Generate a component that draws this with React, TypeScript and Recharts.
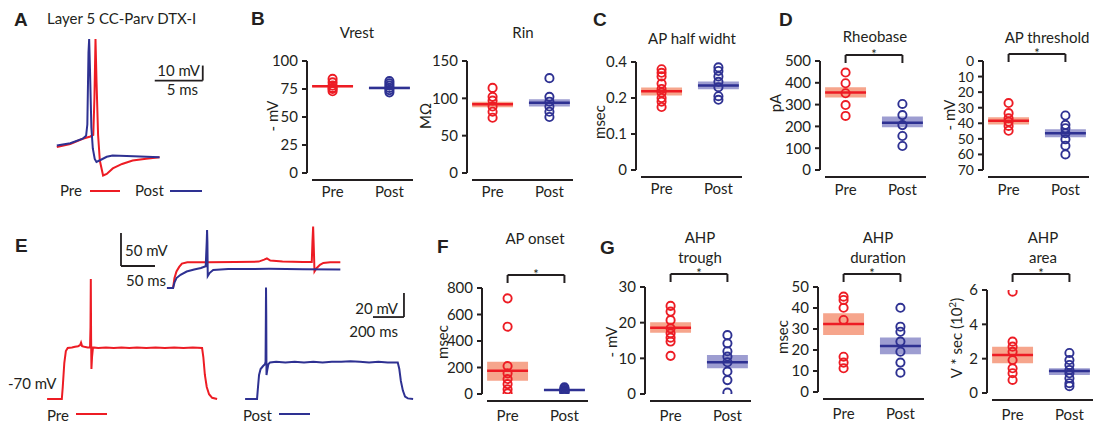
import React from 'react';
import {
  ComposedChart, LineChart, Line, Scatter, XAxis, YAxis, ReferenceArea, ReferenceLine,
} from 'recharts';

const RED = '#ed1c24';
const BLUE = '#2e3192';
const RED_BAND = '#f6a58c';
const BLUE_BAND = '#9d9dd1';
const INK = '#231f20';
const FONT = 'Lato, "Open Sans", sans-serif';

const groups = ['Pre', 'Post'];

// ---- B: Vrest / Rin
const vrestPre = [84, 81, 78, 76, 75, 73];
const vrestPost = [82, 80, 78, 76, 74, 72];
const vrestMean = [77.5, 76];
const vrestBand = [[76.5, 78.5], [75, 77]];

const rinPre = [114, 102, 97, 89, 82, 74];
const rinPost = [127, 102, 95.5, 89, 82, 75];
const rinMean = [92, 94];
const rinBand = [[88, 95.5], [89, 98.7]];

// ---- C: AP half width (top tick is printed "0.4" in the original)
const hwPre = [0.28, 0.27, 0.26, 0.24, 0.225, 0.215, 0.2, 0.19, 0.175];
const hwPost = [0.285, 0.275, 0.26, 0.245, 0.23, 0.205, 0.195];
const hwMean = [0.219, 0.235];
const hwBand = [[0.207, 0.229], [0.224, 0.246]];
const hwTickLabels = ['0', '0.1', '0.2', '0.4'];

// ---- D: Rheobase / AP threshold
const rheoPre = [447, 398, 352, 298, 248];
const rheoPost = [303, 252, 206, 156, 110];
const rheoMean = [356, 217];
const rheoBand = [[332, 380], [196, 245]];

const thrPre = [27, 33.5, 36.8, 39, 41.7, 44.8];
const thrPost = [35, 41, 43.2, 46.4, 50.3, 54.4, 60];
const thrMean = [38.3, 46.4];
const thrBand = [[36.2, 40.7], [43.9, 49]];

// ---- F: AP onset
const onsetPre = [722, 508, 211, 156, 113, 75, 35, 5];
const onsetPost = [50, 40, 30, 25, 20, 15, 10];
const onsetMean = [176, 30];
const onsetBand = [[100, 244], [22, 38]];

// ---- G: AHP trough / duration / area
const troughPre = [24.7, 23.1, 20.7, 18.4, 17, 15.8, 14.7, 10.7];
const troughPost = [16.5, 14.2, 12, 10.5, 8.9, 6.3, 3.9, 0.4];
const troughMean = [18.6, 8.9];
const troughBand = [[17.2, 20.1], [7.2, 10.9]];

const durPre = [45.4, 43.8, 40.1, 34.3, 16.8, 14, 11.3];
const durPost = [40.1, 31.1, 28.7, 24, 19.2, 14, 9.2];
const durMean = [32.4, 21.9];
const durBand = [[27.1, 37.5], [18, 26]];

const areaPre = [5.9, 2.99, 2.7, 2.4, 1.92, 1.44, 1.15, 0.76];
const areaPost = [2.33, 1.92, 1.63, 1.34, 1.15, 0.86, 0.57, 0.4];
const areaMean = [2.21, 1.28];
const areaBand = [[1.73, 2.7], [1.05, 1.44]];

// ---- traces [t, v]
const apPre: [number, number][] = [
  [0, -63], [1.4, -61], [2.7, -57.5], [3.5, -56], [3.8, -55], [3.92, -30], [4.03, 9], [4.14, -20],
  [4.3, -55], [4.48, -72], [4.82, -82], [5.2, -81], [5.83, -77.3], [6.8, -74.3], [7.9, -72],
  [9.3, -70.8], [10.7, -69.8],
];
const apPost: [number, number][] = [
  [0, -62], [1.4, -60.5], [2.7, -57.5], [3.05, -55.5], [3.18, -48], [3.3, 0], [3.37, 9], [3.45, -10],
  [3.6, -50], [3.75, -64], [3.95, -71], [4.13, -73], [4.6, -71.5], [5.2, -69.5], [5.8, -68.7],
  [8, -69.2], [10.7, -69.8],
];

const stepPre: [number, number][] = [
  [0, -70], [95, -70], [101, -60], [111, -40], [121, -30], [133, -27.5], [160, -27], [180, -26.5],
  [200, -26], [213, -25], [219, -23], [226, -26], [240, -26.5], [262, -27], [277, -27], [280, -10],
  [282, 30], [284, -20], [286, -45], [290, -35], [296, -27], [330, -27.5], [380, -27], [430, -27.5],
  [480, -27], [530, -27.5], [580, -27], [640, -27.5], [700, -27], [760, -27.5], [820, -27],
  [880, -27.5], [940, -27], [1000, -27.5], [1008, -35], [1018, -50], [1030, -60], [1045, -66],
  [1065, -69], [1097, -70],
];
const stepPost: [number, number][] = [
  [0, -70], [77, -70], [82, -62], [90, -50], [100, -45], [116, -42.5], [128, -41], [132, -39],
  [134, 0], [135, 23], [136.5, 0], [138, -50], [143, -46], [150, -41], [161, -39.5], [200, -39],
  [260, -39.5], [320, -39], [380, -39.5], [440, -39], [500, -39.5], [560, -39], [620, -39],
  [680, -38.5], [740, -39], [800, -39.5], [860, -39], [920, -39.5], [985, -39.5], [995, -45],
  [1005, -55], [1018, -63], [1032, -68], [1050, -69.5], [1084, -70],
];

const insetPre: [number, number][] = [
  [0, -70], [9, -70], [11, -55], [14, -45], [18, -38], [22, -33], [30, -31], [60, -31], [100, -30.5],
  [135, -30], [143, -27], [147, -25], [152, -28.5], [170, -30], [200, -30.5], [213, -30.5], [214, 0],
  [215, 23], [216, -10], [217, -45], [220, -40], [225, -35], [230, -32], [240, -31], [255, -31],
];
const insetPost: [number, number][] = [
  [0, -70], [9, -70], [11, -62], [14, -55], [20, -50], [29, -45], [40, -42], [50, -39.7], [57, -37],
  [58.5, 0], [59, 18], [59.5, 0], [60, -52], [63, -47], [68, -42.7], [90, -41.2], [150, -41],
  [200, -41.5], [255, -42],
];

const toPts = (arr: [number, number][]) => arr.map(([t, v]) => ({ t, v }));

const txt: React.CSSProperties = { fontFamily: FONT, fontSize: 15, color: INK, lineHeight: 1, whiteSpace: 'nowrap' };

const T = ({ x, y, a = 'c', rot = false, size = 15, bold = false, children }: any) => {
  const tx = a === 'c' ? '-50%' : a === 'r' ? '-100%' : '0';
  return (
    <div style={{
      ...txt, position: 'absolute', left: x, top: y, fontSize: size,
      fontWeight: bold ? 700 : 400,
      fontFamily: bold ? '"Liberation Sans", Arial, sans-serif' : FONT,
      transform: `translate(${tx},-50%)${rot ? ' rotate(-90deg)' : ''}`,
    }}>{children}</div>
  );
};

const ring = (c: string) => (p: any) => (
  <circle cx={p.cx} cy={p.cy} r={4.1} fill="none" stroke={c} strokeWidth={1.9} />
);

const YW = 62, MT = 32, XH = 40, MR = 12, PW = 108;

function StatPanel(props: any) {
  const { axisX, top, bottom, domain, ticks, tickLabels, reversed, pre, post, means, bands, sig, tickGap, tickFont = 15 } = props;
  const plotH = bottom - top;
  const upp = (domain[1] - domain[0]) / plotH;
  const dir = reversed ? -1 : 1;
  const topVal = reversed ? domain[0] : domain[1];
  const bY = sig ? topVal + dir * sig * upp : 0;
  const bLow = bY - dir * 8 * upp;
  const cols = [RED, BLUE];
  const fills = [RED_BAND, BLUE_BAND];
  return (
    <>
      <div style={{ position: 'absolute', left: axisX - YW, top: top - MT }}>
        <ComposedChart width={YW + PW + MR} height={MT + plotH + XH} margin={{ top: MT, right: MR, bottom: 0, left: 0 }}>
          <XAxis type="number" dataKey="x" domain={[0.55, 2.45]} ticks={[1, 2]} interval={0}
            tickFormatter={(v: number) => groups[Math.round(v) - 1]} axisLine={false} tickLine={false}
            tickSize={6} tickMargin={tickGap} height={XH} allowDataOverflow
            tick={{ fill: INK, fontSize: 15, fontFamily: FONT }} />
          <YAxis type="number" dataKey="y" domain={domain} ticks={ticks} reversed={reversed} width={YW}
            interval={0} allowDataOverflow
            tickFormatter={(v: number, i: number) => (tickLabels ? tickLabels[i] : String(v))}
            axisLine={{ stroke: INK, strokeWidth: 2 }} tickLine={{ stroke: INK, strokeWidth: 2 }}
            tickSize={5} tickMargin={4} tick={{ fill: INK, fontSize: tickFont, fontFamily: FONT }} />
          {[0, 1].map((g) => (
            <ReferenceArea key={'b' + g} x1={g + 1 - 0.36} x2={g + 1 + 0.36} y1={bands[g][0]} y2={bands[g][1]}
              fill={fills[g]} fillOpacity={1} stroke="none" />
          ))}
          {[0, 1].map((g) => (
            <ReferenceLine key={'m' + g} segment={[{ x: g + 1 - 0.36, y: means[g] }, { x: g + 1 + 0.36, y: means[g] }]}
              stroke={cols[g]} strokeWidth={2.5} />
          ))}
          <Scatter data={pre.map((y: number) => ({ x: 1, y }))} shape={ring(RED)} isAnimationActive={false} />
          <Scatter data={post.map((y: number) => ({ x: 2, y }))} shape={ring(BLUE)} isAnimationActive={false} />
          {sig ? (
            <ReferenceLine segment={[{ x: 1, y: bY }, { x: 2, y: bY }]} stroke={INK} strokeWidth={2} ifOverflow="visible"
              label={{ value: '*', position: 'top', offset: -4, fill: INK, fontSize: 13, fontFamily: FONT }} />
          ) : null}
          {sig ? <ReferenceLine segment={[{ x: 1, y: bY }, { x: 1, y: bLow }]} stroke={INK} strokeWidth={2} ifOverflow="visible" /> : null}
          {sig ? <ReferenceLine segment={[{ x: 2, y: bY }, { x: 2, y: bLow }]} stroke={INK} strokeWidth={2} ifOverflow="visible" /> : null}
        </ComposedChart>
      </div>
      <div style={{ position: 'absolute', left: axisX + 5, top: bottom + 6, width: 101, height: 2, background: INK }} />
    </>
  );
}

function Trace(props: any) {
  const { box, tDomain, vDomain, series, bar } = props;
  return (
    <div style={{ position: 'absolute', left: box.left, top: box.top }}>
      <LineChart width={box.width} height={box.height} margin={{ top: 0, right: 0, bottom: 0, left: 0 }}>
        <XAxis type="number" dataKey="t" domain={tDomain} hide allowDataOverflow />
        <YAxis type="number" dataKey="v" domain={vDomain} hide allowDataOverflow />
        {series.map((s: any, i: number) => (
          <Line key={i} data={toPts(s.data)} dataKey="v" stroke={s.color} strokeWidth={2} dot={false}
            type="linear" isAnimationActive={false} />
        ))}
        {bar ? (
          <ReferenceLine segment={[{ x: bar.t0, y: bar.v0 }, { x: bar.t0 + bar.dt, y: bar.v0 }]} stroke={INK} strokeWidth={1.8} ifOverflow="visible" />
        ) : null}
        {bar ? (
          <ReferenceLine segment={[{ x: bar.side === 'left' ? bar.t0 : bar.t0 + bar.dt, y: bar.v0 }, { x: bar.side === 'left' ? bar.t0 : bar.t0 + bar.dt, y: bar.v0 + bar.dv }]}
            stroke={INK} strokeWidth={1.8} ifOverflow="visible" />
        ) : null}
      </LineChart>
    </div>
  );
}

const LegendLine = ({ x, y, w, c }: any) => (
  <div style={{ position: 'absolute', left: x, top: y - 1, width: w, height: 2, background: c }} />
);

export default function App() {
  return (
    <div style={{ position: 'absolute', left: 0, top: 0, width: 1100, height: 430, background: '#fff', overflow: 'hidden' }}>
      {/* panel letters */}
      <T x={14} y={19} a="l" size={19} bold>A</T>
      <T x={251} y={18} a="l" size={19} bold>B</T>
      <T x={593} y={19} a="l" size={19} bold>C</T>
      <T x={779} y={19} a="l" size={19} bold>D</T>
      <T x={15} y={245} a="l" size={19} bold>E</T>
      <T x={437} y={246} a="l" size={19} bold>F</T>
      <T x={600} y={247} a="l" size={19} bold>G</T>

      {/* A */}
      <T x={47} y={18} a="l">Layer 5 CC-Parv DTX-I</T>
      <Trace box={{ left: 52.2, top: 29.5, width: 154.6, height: 157.5 }} tDomain={[-0.5, 15.6]} vDomain={[-90, 15]}
        series={[{ data: apPre, color: RED }, { data: apPost, color: BLUE }]}
        bar={{ t0: 10.2, dt: 5, v0: -18.7, dv: 10, side: 'right' }} />
      <T x={200} y={70} a="r">10 mV</T>
      <T x={198} y={89} a="r">5 ms</T>
      <T x={60} y={190} a="l">Pre</T>
      <LegendLine x={90} y={191} w={30} c={RED} />
      <T x={135} y={190} a="l">Post</T>
      <LegendLine x={170} y={191} w={32} c={BLUE} />

      {/* B */}
      <T x={357} y={32}>Vrest</T>
      <T x={272} y={116} rot>- mV</T>
      <StatPanel axisX={307} top={61} bottom={173} domain={[0, 100]} ticks={[0, 25, 50, 75, 100]}
        pre={vrestPre} post={vrestPost} means={vrestMean} bands={vrestBand} tickGap={7} />
      <T x={523} y={32}>Rin</T>
      <T x={425} y={116} rot>MΩ</T>
      <StatPanel axisX={467} top={61} bottom={173} domain={[0, 150]} ticks={[0, 50, 100, 150]}
        pre={rinPre} post={rinPost} means={rinMean} bands={rinBand} tickGap={7} />

      {/* C */}
      <T x={692} y={38}>AP half widht</T>
      <T x={599} y={122} rot>msec</T>
      <StatPanel axisX={636} top={62} bottom={170} domain={[0, 0.3]} ticks={[0, 0.1, 0.2, 0.3]} tickLabels={hwTickLabels}
        pre={hwPre} post={hwPost} means={hwMean} bands={hwBand} tickGap={7} />

      {/* D */}
      <T x={875} y={36}>Rheobase</T>
      <T x={775} y={103} rot>pA</T>
      <StatPanel axisX={820} top={61} bottom={170} domain={[0, 500]} ticks={[0, 100, 200, 300, 400, 500]}
        pre={rheoPre} post={rheoPost} means={rheoMean} bands={rheoBand} sig={6} tickGap={8} />
      <T x={1047} y={37}>AP threshold</T>
      <T x={949} y={115} rot>- mV</T>
      <StatPanel axisX={983} top={61} bottom={170} domain={[0, 70]} ticks={[0, 10, 20, 30, 40, 50, 60, 70]} reversed
        pre={thrPre} post={thrPost} means={thrMean} bands={thrBand} sig={7} tickGap={8} tickFont={14} />

      {/* E */}
      <Trace box={{ left: 118, top: 222, width: 227.1, height: 69.3 }} tDomain={[-72, 262]} vDomain={[-75, 30]}
        series={[{ data: insetPre, color: RED }, { data: insetPost, color: BLUE }]}
        bar={{ t0: -67.6, dt: 50, v0: -36.7, dv: 50, side: 'left' }} />
      <T x={125} y={250} a="l">50 mV</T>
      <T x={126} y={280} a="l">50 ms</T>
      <Trace box={{ left: 43.9, top: 273, width: 176.7, height: 132 }} tDomain={[-20, 1120]} vDomain={[-75, 35]}
        series={[{ data: stepPre, color: RED }]} />
      <Trace box={{ left: 241.9, top: 273, width: 176.7, height: 132 }} tDomain={[-20, 1120]} vDomain={[-75, 35]}
        series={[{ data: stepPost, color: BLUE }]}
        bar={{ t0: 825, dt: 200, v0: -1.7, dv: 20, side: 'right' }} />
      <T x={398} y={308} a="r">20 mV</T>
      <T x={398} y={331} a="r">200 ms</T>
      <T x={8} y={383} a="l">-70 mV</T>
      <T x={47} y={415} a="l">Pre</T>
      <LegendLine x={76} y={414} w={31} c={RED} />
      <T x={243} y={415} a="l">Post</T>
      <LegendLine x={279} y={414} w={31} c={BLUE} />

      {/* F */}
      <T x={535} y={238}>AP onset</T>
      <T x={442} y={342} rot>msec</T>
      <StatPanel axisX={482} top={288} bottom={394} domain={[0, 800]} ticks={[0, 200, 400, 600, 800]}
        pre={onsetPre} post={onsetPost} means={onsetMean} bands={onsetBand} sig={13} tickGap={10} />

      {/* G */}
      <T x={700} y={237}>AHP</T>
      <T x={700} y={257}>trough</T>
      <T x={611} y={342} rot>- mV</T>
      <StatPanel axisX={645} top={287} bottom={394} domain={[0, 30]} ticks={[0, 10, 20, 30]}
        pre={troughPre} post={troughPost} means={troughMean} bands={troughBand} sig={13} tickGap={10} />
      <T x={878} y={237}>AHP</T>
      <T x={878} y={257}>duration</T>
      <T x={782} y={337} rot>msec</T>
      <StatPanel axisX={818} top={287} bottom={392} domain={[0, 50]} ticks={[0, 10, 20, 30, 40, 50]}
        pre={durPre} post={durPost} means={durMean} bands={durBand} sig={13} tickGap={10} />
      <T x={1043} y={237}>AHP</T>
      <T x={1043} y={257}>area</T>
      <T x={955} y={338} rot>V * sec (10<sup style={{ fontSize: 10 }}>2</sup>)</T>
      <StatPanel axisX={987} top={290} bottom={393} domain={[0, 6]} ticks={[0, 2, 4, 6]}
        pre={areaPre} post={areaPost} means={areaMean} bands={areaBand} sig={16} tickGap={10} />
    </div>
  );
}
